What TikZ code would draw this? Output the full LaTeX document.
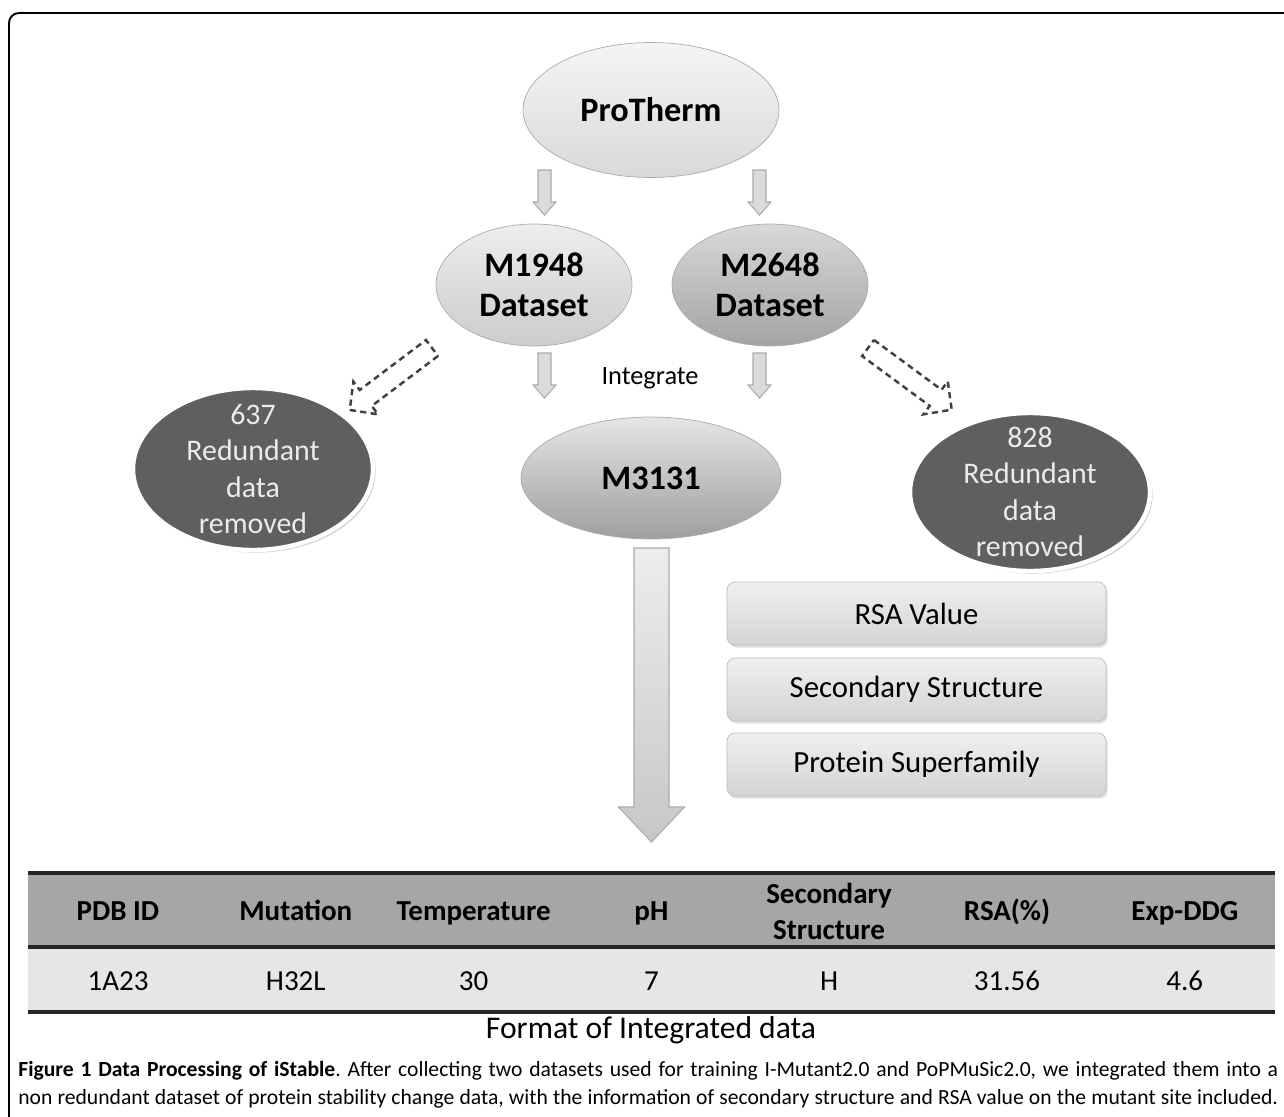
\documentclass[tikz,border=0pt]{standalone}
\usepackage{fontspec}
\setmainfont{Carlito}
\usepackage{tikz}
\usetikzlibrary{shapes.geometric,shadows}

\definecolor{ballgray}{HTML}{5F5F5F}
\definecolor{hdrgray}{HTML}{A6A6A6}
\definecolor{rowgray}{HTML}{E6E6E6}
\definecolor{edgegray}{HTML}{ABABAB}

% block arrow: style, tail point, angle, length, shaft half, head half, head length
\newcommand{\blkarrow}[7]{%
  \draw[#1, shift={#2}, rotate=#3] (0,-#5) -- ({#4-#7},-#5) -- ({#4-#7},-#6)
    -- (#4,0) -- ({#4-#7},#6) -- ({#4-#7},#5) -- (0,#5) -- cycle;}

\begin{document}
\begin{tikzpicture}[x=0.02cm, y=-0.02cm,
    oval/.style={ellipse, draw=edgegray, inner sep=0pt, align=center,
      font=\fontsize{19.5}{23}\selectfont\bfseries},
    redball/.style={ellipse, fill=ballgray, draw=white, line width=2.5pt,
      minimum width=4.8cm, drop shadow={opacity=0.35, shadow xshift=1.5pt, shadow yshift=-1.5pt}},
    redtxt/.style={align=center, text=white!92!black, font=\fontsize{17}{20.7}\selectfont},
    infobox/.style={rectangle, rounded corners=0.16cm, draw=edgegray!80,
      top color=white!94!black, bottom color=white!83!black,
      minimum width=7.58cm, minimum height=1.26cm,
      drop shadow={opacity=0.25, shadow xshift=1pt, shadow yshift=-1.5pt},
      font=\fontsize{17.5}{20}\selectfont},
    smallarr/.style={fill=white!86!black, draw=edgegray, line width=0.6pt},
    dasharr/.style={draw=black!75, line width=1.4pt, dash pattern=on 3.5pt off 2.5pt, fill=white},
    hdr/.style={align=center, font=\fontsize{16.5}{20.5}\selectfont\bfseries},
    cell/.style={anchor=mid, font=\fontsize{16.5}{20}\selectfont},
    tblrule/.style={line width=2.2pt, draw=black!85}]

    \useasboundingbox (0,0) rectangle (1284,1116);

    % Frame
    \draw[line width=1.1pt, rounded corners=0.2cm] (9,13) rectangle (1300,1140);

    % Sources
    \node[oval, top color=white!96!black, bottom color=white!85!black,
      minimum width=5.12cm, minimum height=2.7cm] (pro) at (651,110) {ProTherm};
    \node[oval, top color=white!93!black, bottom color=white!80!black,
      minimum width=3.92cm, minimum height=2.44cm] (m1948) at (534,285) {M1948\\Dataset};
    \node[oval, top color=white!85!black, bottom color=white!64!black,
      minimum width=3.92cm, minimum height=2.44cm] (m2648) at (770,285) {M2648\\Dataset};
    \node[oval, top color=white!90!black, bottom color=white!62!black,
      minimum width=5.2cm, minimum height=2.44cm] (m3131) at (651,478) {M3131};
    \node[font=\fontsize{15}{18}\selectfont] (integ) at (650,378) {Integrate};

    % Removed data
    \node[redball, minimum height=3.24cm,
      label={[redtxt]center:637\\Redundant\\data\\removed}] (red1) at (253,469) {};
    \node[redball, minimum height=3.16cm,
      label={[redtxt]center:828\\Redundant\\data\\removed}] (red2) at (1030,492) {};

    % Arrows
    \blkarrow{smallarr}{(544.5,170)}{-90}{45}{6.5}{11.5}{13}
    \blkarrow{smallarr}{(759.5,170)}{-90}{45}{6.5}{11.5}{13}
    \blkarrow{smallarr}{(544.5,353)}{-90}{45}{6.5}{11.5}{13}
    \blkarrow{smallarr}{(759.5,353)}{-90}{45}{6.5}{11.5}{13}
    \blkarrow{dasharr}{(432,348)}{217}{103}{10}{20.5}{20}
    \blkarrow{dasharr}{(868,348)}{-36.4}{104}{10}{20.5}{20}
    \blkarrow{draw=edgegray, line width=0.6pt, top color=white!93!black, bottom color=white!78!black}{(651.5,548)}{-90}{294}{17.5}{33}{35}

    % Added information
    \node[infobox] (rsa) at (916.5,613.5) {RSA Value};
    \node[infobox] (sec) at (916.5,689.5) {Secondary Structure};
    \node[infobox] (fam) at (916.5,764.5) {Protein Superfamily};

    % Table
    \fill[hdrgray] (28,873) rectangle (1275,947);
    \fill[rowgray] (28,947) rectangle (1275,1012);
    \draw[tblrule] (28,873) -- (1275,873);
    \draw[tblrule] (28,947) -- (1275,947);
    \draw[tblrule] (28,1012) -- (1275,1012);
    \foreach \t/\i in {PDB ID/1,Mutation/2,Temperature/3,pH/4,RSA(\%)/6,Exp-DDG/7}
      \node[hdr, anchor=mid] (h\i) at ({118+177.8*(\i-1)},916) {\t};
    \node[hdr] (h5) at (829,911) {Secondary\\Structure};
    \foreach \t [count=\i] in {1A23,H32L,30,7,H,31.56,4.6}
      \node[cell] (d\i) at ({118+177.8*(\i-1)},986) {\t};
    \node[font=\fontsize{18}{21}\selectfont] (fmt) at (651,1030) {Format of Integrated data};

    % Caption
    \node[anchor=north west, inner sep=0pt, text width=25.2cm, align=justify,
      font=\fontsize{12.3}{15.9}\selectfont\frenchspacing] (cap) at (18,1061)
      {\textbf{Figure 1 Data Processing of iStable}. After collecting two datasets used for training I-Mutant2.0 and PoPMuSic2.0, we integrated them into a\linebreak non redundant dataset of protein stability change data, with the information of secondary structure and RSA value on the mutant site included.\parfillskip=0pt\par};
\end{tikzpicture}
\end{document}
